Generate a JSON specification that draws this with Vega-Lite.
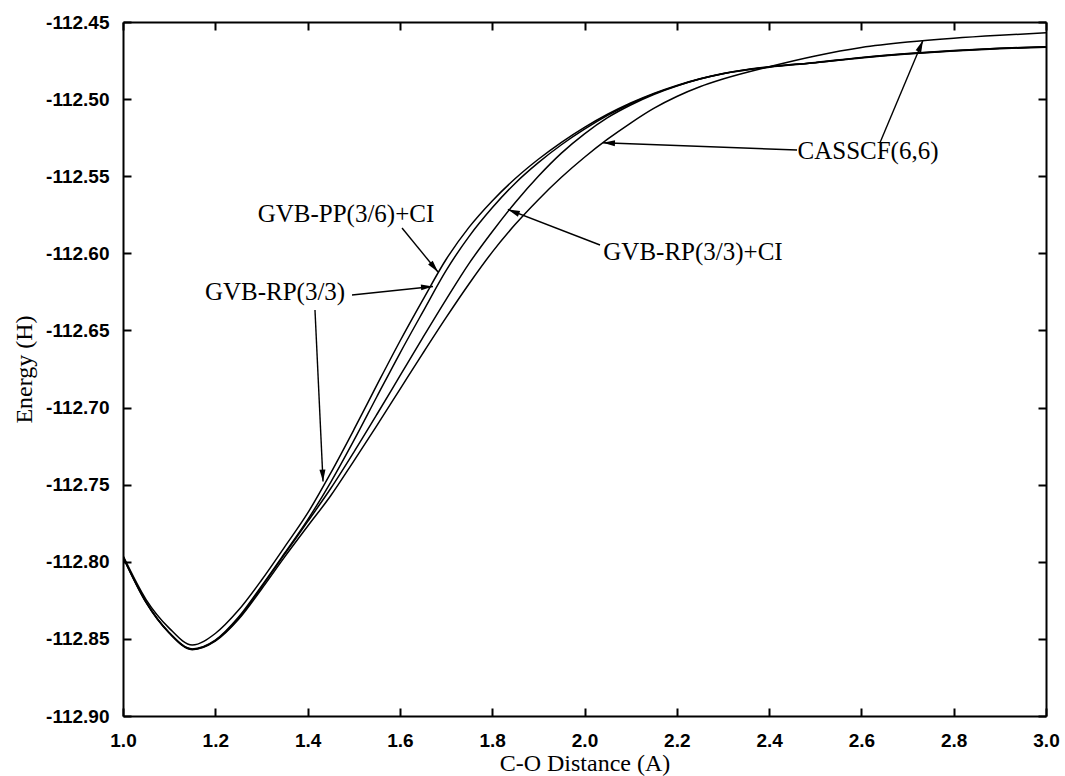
{
  "$schema": "https://vega.github.io/schema/vega-lite/v6.json",
  "width": 923,
  "height": 694,
  "autosize": {"type": "none"},
  "padding": {"left": 123, "top": 22, "right": 19, "bottom": 60},
  "background": "white",
  "config": {
    "view": {"stroke": null},
    "axis": {
      "domainColor": "black", "domainWidth": 2,
      "tickColor": "black", "tickWidth": 2, "tickSize": -8,
      "labelFont": "Liberation Sans", "labelFontWeight": "bold", "labelFontSize": 19, "labelColor": "black",
      "titleFont": "Liberation Serif", "titleFontWeight": "normal", "titleFontSize": 24, "titleColor": "black",
      "grid": false, "labelFlush": false, "labelOverlap": false, "labelBound": false
    },
    "axisX": {"labelPadding": 23, "titlePadding": 1},
    "axisY": {"labelPadding": 22, "titlePadding": 9}
  },
  "datasets": {
    "curves": [
      {"series": "CASSCF(6,6)", "r": 1.00, "e": -112.7970},
      {"series": "CASSCF(6,6)", "r": 1.05, "e": -112.8265},
      {"series": "CASSCF(6,6)", "r": 1.10, "e": -112.8462},
      {"series": "CASSCF(6,6)", "r": 1.15, "e": -112.8570},
      {"series": "CASSCF(6,6)", "r": 1.20, "e": -112.8515},
      {"series": "CASSCF(6,6)", "r": 1.25, "e": -112.8375},
      {"series": "CASSCF(6,6)", "r": 1.30, "e": -112.8178},
      {"series": "CASSCF(6,6)", "r": 1.35, "e": -112.7970},
      {"series": "CASSCF(6,6)", "r": 1.40, "e": -112.7770},
      {"series": "CASSCF(6,6)", "r": 1.45, "e": -112.7572},
      {"series": "CASSCF(6,6)", "r": 1.50, "e": -112.7347},
      {"series": "CASSCF(6,6)", "r": 1.55, "e": -112.7117},
      {"series": "CASSCF(6,6)", "r": 1.60, "e": -112.6882},
      {"series": "CASSCF(6,6)", "r": 1.65, "e": -112.6647},
      {"series": "CASSCF(6,6)", "r": 1.70, "e": -112.6417},
      {"series": "CASSCF(6,6)", "r": 1.75, "e": -112.6197},
      {"series": "CASSCF(6,6)", "r": 1.80, "e": -112.5992},
      {"series": "CASSCF(6,6)", "r": 1.85, "e": -112.5812},
      {"series": "CASSCF(6,6)", "r": 1.90, "e": -112.5652},
      {"series": "CASSCF(6,6)", "r": 1.95, "e": -112.5507},
      {"series": "CASSCF(6,6)", "r": 2.00, "e": -112.5377},
      {"series": "CASSCF(6,6)", "r": 2.05, "e": -112.5260},
      {"series": "CASSCF(6,6)", "r": 2.10, "e": -112.5155},
      {"series": "CASSCF(6,6)", "r": 2.15, "e": -112.5060},
      {"series": "CASSCF(6,6)", "r": 2.20, "e": -112.4983},
      {"series": "CASSCF(6,6)", "r": 2.25, "e": -112.4920},
      {"series": "CASSCF(6,6)", "r": 2.30, "e": -112.4870},
      {"series": "CASSCF(6,6)", "r": 2.40, "e": -112.4790},
      {"series": "CASSCF(6,6)", "r": 2.50, "e": -112.4720},
      {"series": "CASSCF(6,6)", "r": 2.60, "e": -112.4665},
      {"series": "CASSCF(6,6)", "r": 2.70, "e": -112.4630},
      {"series": "CASSCF(6,6)", "r": 2.80, "e": -112.4605},
      {"series": "CASSCF(6,6)", "r": 2.90, "e": -112.4586},
      {"series": "CASSCF(6,6)", "r": 3.00, "e": -112.4570},

      {"series": "GVB-RP(3/3)+CI", "r": 1.00, "e": -112.7968},
      {"series": "GVB-RP(3/3)+CI", "r": 1.05, "e": -112.8262},
      {"series": "GVB-RP(3/3)+CI", "r": 1.10, "e": -112.8460},
      {"series": "GVB-RP(3/3)+CI", "r": 1.15, "e": -112.8567},
      {"series": "GVB-RP(3/3)+CI", "r": 1.20, "e": -112.8511},
      {"series": "GVB-RP(3/3)+CI", "r": 1.25, "e": -112.8368},
      {"series": "GVB-RP(3/3)+CI", "r": 1.30, "e": -112.8165},
      {"series": "GVB-RP(3/3)+CI", "r": 1.35, "e": -112.7952},
      {"series": "GVB-RP(3/3)+CI", "r": 1.40, "e": -112.7740},
      {"series": "GVB-RP(3/3)+CI", "r": 1.45, "e": -112.7525},
      {"series": "GVB-RP(3/3)+CI", "r": 1.50, "e": -112.7290},
      {"series": "GVB-RP(3/3)+CI", "r": 1.55, "e": -112.7045},
      {"series": "GVB-RP(3/3)+CI", "r": 1.60, "e": -112.6795},
      {"series": "GVB-RP(3/3)+CI", "r": 1.65, "e": -112.6545},
      {"series": "GVB-RP(3/3)+CI", "r": 1.70, "e": -112.6300},
      {"series": "GVB-RP(3/3)+CI", "r": 1.75, "e": -112.6065},
      {"series": "GVB-RP(3/3)+CI", "r": 1.80, "e": -112.5860},
      {"series": "GVB-RP(3/3)+CI", "r": 1.85, "e": -112.5670},
      {"series": "GVB-RP(3/3)+CI", "r": 1.90, "e": -112.5500},
      {"series": "GVB-RP(3/3)+CI", "r": 1.95, "e": -112.5350},
      {"series": "GVB-RP(3/3)+CI", "r": 2.00, "e": -112.5225},
      {"series": "GVB-RP(3/3)+CI", "r": 2.05, "e": -112.5120},
      {"series": "GVB-RP(3/3)+CI", "r": 2.10, "e": -112.5038},
      {"series": "GVB-RP(3/3)+CI", "r": 2.15, "e": -112.4970},
      {"series": "GVB-RP(3/3)+CI", "r": 2.20, "e": -112.4915},
      {"series": "GVB-RP(3/3)+CI", "r": 2.25, "e": -112.4870},
      {"series": "GVB-RP(3/3)+CI", "r": 2.30, "e": -112.4835},
      {"series": "GVB-RP(3/3)+CI", "r": 2.40, "e": -112.4792},
      {"series": "GVB-RP(3/3)+CI", "r": 2.50, "e": -112.4762},
      {"series": "GVB-RP(3/3)+CI", "r": 2.60, "e": -112.4730},
      {"series": "GVB-RP(3/3)+CI", "r": 2.70, "e": -112.4705},
      {"series": "GVB-RP(3/3)+CI", "r": 2.80, "e": -112.4685},
      {"series": "GVB-RP(3/3)+CI", "r": 2.90, "e": -112.4670},
      {"series": "GVB-RP(3/3)+CI", "r": 3.00, "e": -112.4660},

      {"series": "GVB-PP(3/6)+CI", "r": 1.00, "e": -112.7966},
      {"series": "GVB-PP(3/6)+CI", "r": 1.05, "e": -112.8260},
      {"series": "GVB-PP(3/6)+CI", "r": 1.10, "e": -112.8458},
      {"series": "GVB-PP(3/6)+CI", "r": 1.15, "e": -112.8565},
      {"series": "GVB-PP(3/6)+CI", "r": 1.20, "e": -112.8508},
      {"series": "GVB-PP(3/6)+CI", "r": 1.25, "e": -112.8360},
      {"series": "GVB-PP(3/6)+CI", "r": 1.30, "e": -112.8158},
      {"series": "GVB-PP(3/6)+CI", "r": 1.35, "e": -112.7945},
      {"series": "GVB-PP(3/6)+CI", "r": 1.40, "e": -112.7728},
      {"series": "GVB-PP(3/6)+CI", "r": 1.45, "e": -112.7485},
      {"series": "GVB-PP(3/6)+CI", "r": 1.50, "e": -112.7215},
      {"series": "GVB-PP(3/6)+CI", "r": 1.55, "e": -112.6930},
      {"series": "GVB-PP(3/6)+CI", "r": 1.60, "e": -112.6648},
      {"series": "GVB-PP(3/6)+CI", "r": 1.65, "e": -112.6378},
      {"series": "GVB-PP(3/6)+CI", "r": 1.70, "e": -112.6112},
      {"series": "GVB-PP(3/6)+CI", "r": 1.75, "e": -112.5890},
      {"series": "GVB-PP(3/6)+CI", "r": 1.80, "e": -112.5705},
      {"series": "GVB-PP(3/6)+CI", "r": 1.85, "e": -112.5545},
      {"series": "GVB-PP(3/6)+CI", "r": 1.90, "e": -112.5412},
      {"series": "GVB-PP(3/6)+CI", "r": 1.95, "e": -112.5296},
      {"series": "GVB-PP(3/6)+CI", "r": 2.00, "e": -112.5195},
      {"series": "GVB-PP(3/6)+CI", "r": 2.05, "e": -112.5106},
      {"series": "GVB-PP(3/6)+CI", "r": 2.10, "e": -112.5030},
      {"series": "GVB-PP(3/6)+CI", "r": 2.15, "e": -112.4966},
      {"series": "GVB-PP(3/6)+CI", "r": 2.20, "e": -112.4914},
      {"series": "GVB-PP(3/6)+CI", "r": 2.25, "e": -112.4870},
      {"series": "GVB-PP(3/6)+CI", "r": 2.30, "e": -112.4836},
      {"series": "GVB-PP(3/6)+CI", "r": 2.40, "e": -112.4793},
      {"series": "GVB-PP(3/6)+CI", "r": 2.50, "e": -112.4765},
      {"series": "GVB-PP(3/6)+CI", "r": 2.60, "e": -112.4733},
      {"series": "GVB-PP(3/6)+CI", "r": 2.70, "e": -112.4708},
      {"series": "GVB-PP(3/6)+CI", "r": 2.80, "e": -112.4688},
      {"series": "GVB-PP(3/6)+CI", "r": 2.90, "e": -112.4673},
      {"series": "GVB-PP(3/6)+CI", "r": 3.00, "e": -112.4663},

      {"series": "GVB-RP(3/3)", "r": 1.00, "e": -112.7960},
      {"series": "GVB-RP(3/3)", "r": 1.05, "e": -112.8245},
      {"series": "GVB-RP(3/3)", "r": 1.10, "e": -112.8430},
      {"series": "GVB-RP(3/3)", "r": 1.15, "e": -112.8540},
      {"series": "GVB-RP(3/3)", "r": 1.20, "e": -112.8465},
      {"series": "GVB-RP(3/3)", "r": 1.25, "e": -112.8315},
      {"series": "GVB-RP(3/3)", "r": 1.30, "e": -112.8120},
      {"series": "GVB-RP(3/3)", "r": 1.35, "e": -112.7905},
      {"series": "GVB-RP(3/3)", "r": 1.40, "e": -112.7685},
      {"series": "GVB-RP(3/3)", "r": 1.45, "e": -112.7425},
      {"series": "GVB-RP(3/3)", "r": 1.50, "e": -112.7145},
      {"series": "GVB-RP(3/3)", "r": 1.55, "e": -112.6855},
      {"series": "GVB-RP(3/3)", "r": 1.60, "e": -112.6570},
      {"series": "GVB-RP(3/3)", "r": 1.65, "e": -112.6300},
      {"series": "GVB-RP(3/3)", "r": 1.70, "e": -112.6040},
      {"series": "GVB-RP(3/3)", "r": 1.75, "e": -112.5830},
      {"series": "GVB-RP(3/3)", "r": 1.80, "e": -112.5660},
      {"series": "GVB-RP(3/3)", "r": 1.85, "e": -112.5515},
      {"series": "GVB-RP(3/3)", "r": 1.90, "e": -112.5390},
      {"series": "GVB-RP(3/3)", "r": 1.95, "e": -112.5280},
      {"series": "GVB-RP(3/3)", "r": 2.00, "e": -112.5183},
      {"series": "GVB-RP(3/3)", "r": 2.05, "e": -112.5098},
      {"series": "GVB-RP(3/3)", "r": 2.10, "e": -112.5025},
      {"series": "GVB-RP(3/3)", "r": 2.15, "e": -112.4963},
      {"series": "GVB-RP(3/3)", "r": 2.20, "e": -112.4911},
      {"series": "GVB-RP(3/3)", "r": 2.25, "e": -112.4868},
      {"series": "GVB-RP(3/3)", "r": 2.30, "e": -112.4834},
      {"series": "GVB-RP(3/3)", "r": 2.40, "e": -112.4790},
      {"series": "GVB-RP(3/3)", "r": 2.50, "e": -112.4764},
      {"series": "GVB-RP(3/3)", "r": 2.60, "e": -112.4731},
      {"series": "GVB-RP(3/3)", "r": 2.70, "e": -112.4706},
      {"series": "GVB-RP(3/3)", "r": 2.80, "e": -112.4686},
      {"series": "GVB-RP(3/3)", "r": 2.90, "e": -112.4671},
      {"series": "GVB-RP(3/3)", "r": 3.00, "e": -112.4661}
    ],
    "arrows": [
      {"id": 1, "label": "CASSCF(6,6)", "tailR": 2.4605, "tailE": -112.5330, "tipR": 2.0400, "tipE": -112.5283},
      {"id": 2, "label": "CASSCF(6,6)", "tailR": 2.6400, "tailE": -112.5285, "tipR": 2.7335, "tipE": -112.4618},
      {"id": 3, "label": "GVB-RP(3/3)+CI", "tailR": 2.0336, "tailE": -112.5946, "tipR": 1.8340, "tipE": -112.5715},
      {"id": 4, "label": "GVB-PP(3/6)+CI", "tailR": 1.6046, "tailE": -112.5836, "tipR": 1.6826, "tipE": -112.6121},
      {"id": 5, "label": "GVB-RP(3/3)", "tailR": 1.4962, "tailE": -112.6270, "tipR": 1.6717, "tipE": -112.6215},
      {"id": 6, "label": "GVB-RP(3/3)", "tailR": 1.4160, "tailE": -112.6368, "tipR": 1.4334, "tipE": -112.7480}
    ],
    "labels": [
      {"text": "CASSCF(6,6)", "r": 2.6143, "e": -112.5337},
      {"text": "GVB-RP(3/3)+CI", "r": 2.2351, "e": -112.5992},
      {"text": "GVB-PP(3/6)+CI", "r": 1.4832, "e": -112.5745},
      {"text": "GVB-RP(3/3)", "r": 1.3294, "e": -112.6251}
    ]
  },
  "resolve": {"axis": {"x": "independent", "y": "independent"}},
  "layer": [
    {
      "data": {"name": "curves"},
      "mark": {"type": "line", "color": "black", "strokeWidth": 1.5, "interpolate": "monotone", "clip": true},
      "encoding": {
        "x": {"field": "r", "type": "quantitative",
              "scale": {"domain": [1, 3], "nice": false, "zero": false},
              "axis": {"orient": "bottom", "title": "C-O Distance (A)", "format": ".1f",
                       "values": [1, 1.2, 1.4, 1.6, 1.8, 2, 2.2, 2.4, 2.6, 2.8, 3]}},
        "y": {"field": "e", "type": "quantitative",
              "scale": {"domain": [-112.9, -112.45], "nice": false, "zero": false},
              "axis": {"orient": "left", "title": "Energy (H)",
                       "labelExpr": "'-' + format(abs(datum.value), '.2f')",
                       "values": [-112.9, -112.85, -112.8, -112.75, -112.7, -112.65, -112.6, -112.55, -112.5, -112.45]}},
        "detail": {"field": "series", "type": "nominal"}
      }
    },
    {
      "data": {"name": "curves"},
      "mark": {"type": "point", "opacity": 0},
      "encoding": {
        "x": {"field": "r", "type": "quantitative",
              "scale": {"domain": [1, 3], "nice": false, "zero": false},
              "axis": {"orient": "top", "title": null, "labels": false,
                       "values": [1, 1.2, 1.4, 1.6, 1.8, 2, 2.2, 2.4, 2.6, 2.8, 3]}},
        "y": {"field": "e", "type": "quantitative",
              "scale": {"domain": [-112.9, -112.45], "nice": false, "zero": false},
              "axis": {"orient": "right", "title": null, "labels": false,
                       "values": [-112.9, -112.85, -112.8, -112.75, -112.7, -112.65, -112.6, -112.55, -112.5, -112.45]}}
      }
    },
    {
      "data": {"name": "arrows"},
      "mark": {"type": "rule", "color": "black", "strokeWidth": 1.4},
      "encoding": {
        "x": {"field": "tailR", "type": "quantitative", "scale": {"domain": [1, 3], "nice": false, "zero": false}, "axis": null},
        "y": {"field": "tailE", "type": "quantitative", "scale": {"domain": [-112.9, -112.45], "nice": false, "zero": false}, "axis": null},
        "x2": {"field": "tipR"},
        "y2": {"field": "tipE"}
      }
    },
    {
      "data": {"name": "arrows"},
      "transform": [{"filter": "datum.id == 1"}],
      "mark": {"type": "point", "shape": "M0,0L0.6,2.4L-0.6,2.4Z", "filled": true, "color": "black", "opacity": 1, "size": 100, "angle": 272.5},
      "encoding": {
        "x": {"field": "tipR", "type": "quantitative", "scale": {"domain": [1, 3], "nice": false, "zero": false}, "axis": null},
        "y": {"field": "tipE", "type": "quantitative", "scale": {"domain": [-112.9, -112.45], "nice": false, "zero": false}, "axis": null}
      }
    },
    {
      "data": {"name": "arrows"},
      "transform": [{"filter": "datum.id == 2"}],
      "mark": {"type": "point", "shape": "M0,0L0.6,2.4L-0.6,2.4Z", "filled": true, "color": "black", "opacity": 1, "size": 100, "angle": 22.5},
      "encoding": {
        "x": {"field": "tipR", "type": "quantitative", "scale": {"domain": [1, 3], "nice": false, "zero": false}, "axis": null},
        "y": {"field": "tipE", "type": "quantitative", "scale": {"domain": [-112.9, -112.45], "nice": false, "zero": false}, "axis": null}
      }
    },
    {
      "data": {"name": "arrows"},
      "transform": [{"filter": "datum.id == 3"}],
      "mark": {"type": "point", "shape": "M0,0L0.6,2.4L-0.6,2.4Z", "filled": true, "color": "black", "opacity": 1, "size": 100, "angle": 291.9},
      "encoding": {
        "x": {"field": "tipR", "type": "quantitative", "scale": {"domain": [1, 3], "nice": false, "zero": false}, "axis": null},
        "y": {"field": "tipE", "type": "quantitative", "scale": {"domain": [-112.9, -112.45], "nice": false, "zero": false}, "axis": null}
      }
    },
    {
      "data": {"name": "arrows"},
      "transform": [{"filter": "datum.id == 4"}],
      "mark": {"type": "point", "shape": "M0,0L0.6,2.4L-0.6,2.4Z", "filled": true, "color": "black", "opacity": 1, "size": 100, "angle": 140.7},
      "encoding": {
        "x": {"field": "tipR", "type": "quantitative", "scale": {"domain": [1, 3], "nice": false, "zero": false}, "axis": null},
        "y": {"field": "tipE", "type": "quantitative", "scale": {"domain": [-112.9, -112.45], "nice": false, "zero": false}, "axis": null}
      }
    },
    {
      "data": {"name": "arrows"},
      "transform": [{"filter": "datum.id == 5"}],
      "mark": {"type": "point", "shape": "M0,0L0.6,2.4L-0.6,2.4Z", "filled": true, "color": "black", "opacity": 1, "size": 100, "angle": 85.8},
      "encoding": {
        "x": {"field": "tipR", "type": "quantitative", "scale": {"domain": [1, 3], "nice": false, "zero": false}, "axis": null},
        "y": {"field": "tipE", "type": "quantitative", "scale": {"domain": [-112.9, -112.45], "nice": false, "zero": false}, "axis": null}
      }
    },
    {
      "data": {"name": "arrows"},
      "transform": [{"filter": "datum.id == 6"}],
      "mark": {"type": "point", "shape": "M0,0L0.6,2.4L-0.6,2.4Z", "filled": true, "color": "black", "opacity": 1, "size": 100, "angle": 177.3},
      "encoding": {
        "x": {"field": "tipR", "type": "quantitative", "scale": {"domain": [1, 3], "nice": false, "zero": false}, "axis": null},
        "y": {"field": "tipE", "type": "quantitative", "scale": {"domain": [-112.9, -112.45], "nice": false, "zero": false}, "axis": null}
      }
    },
    {
      "data": {"name": "labels"},
      "mark": {"type": "text", "font": "Liberation Serif", "fontSize": 25, "color": "black", "align": "center", "baseline": "middle"},
      "encoding": {
        "x": {"field": "r", "type": "quantitative", "scale": {"domain": [1, 3], "nice": false, "zero": false}, "axis": null},
        "y": {"field": "e", "type": "quantitative", "scale": {"domain": [-112.9, -112.45], "nice": false, "zero": false}, "axis": null},
        "text": {"field": "text", "type": "nominal"}
      }
    }
  ]
}
